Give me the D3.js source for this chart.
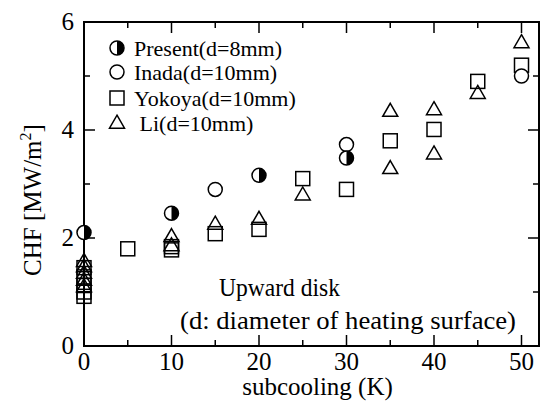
<!DOCTYPE html>
<html>
<head>
<meta charset="utf-8">
<script src="https://cdn.jsdelivr.net/npm/d3@7"></script>
<style>
  html, body { margin: 0; padding: 0; background: #fff; }
  svg text { font-family: "Liberation Serif", "Times New Roman", serif; fill: #000; }
</style>
</head>
<body>
<svg id="chart" width="543" height="405"></svg>
<script>
// CHF versus subcooling for an upward-facing heated disk
const presentX = [0, 10, 20, 30];
const presentY = [2.1, 2.46, 3.16, 3.48];

const inadaX = [15, 30, 50];
const inadaY = [2.9, 3.73, 5.0];

const yokoyaX = [0, 0, 0, 0, 0, 5, 10, 10, 15, 20, 25, 30, 35, 40, 45, 50];
const yokoyaY = [1.45, 1.28, 1.12, 1.0, 0.92, 1.8, 1.84, 1.78, 2.08, 2.16, 3.1, 2.9, 3.8, 4.01, 4.9, 5.2];

const liX = [0, 0, 0, 0, 0, 10, 10, 15, 20, 25, 35, 35, 40, 40, 45, 50];
const liY = [1.57, 1.47, 1.35, 1.22, 1.1, 2.03, 1.86, 2.26, 2.35, 2.8, 4.35, 3.29, 4.38, 3.56, 4.68, 5.62];

const legendLabels = ["Present(d=8mm)", "Inada(d=10mm)", "Yokoya(d=10mm)", " Li(d=10mm)"];
const xTicks = [0, 10, 20, 30, 40, 50];
const yTicks = [0, 2, 4, 6];

const svg = d3.select("#chart");
const plotL = 84, plotR = 539, plotT = 22, plotB = 346;

const x = d3.scaleLinear().domain([0, 52]).range([plotL, plotR]);
const y = d3.scaleLinear().domain([0, 6]).range([plotB, plotT]);

const xMinor = d3.range(5, 52, 10);
const yMinor = [1, 3, 5];

// frame
svg.append("rect")
  .attr("x", plotL).attr("y", plotT)
  .attr("width", plotR - plotL).attr("height", plotB - plotT)
  .attr("fill", "none").attr("stroke", "#000").attr("stroke-width", 2);

// inward ticks on all four sides
function xTickMarks(vals, len) {
  vals.forEach(v => {
    svg.append("line").attr("x1", x(v)).attr("x2", x(v))
      .attr("y1", plotB).attr("y2", plotB - len)
      .attr("stroke", "#000").attr("stroke-width", 1.5);
    svg.append("line").attr("x1", x(v)).attr("x2", x(v))
      .attr("y1", plotT).attr("y2", plotT + len)
      .attr("stroke", "#000").attr("stroke-width", 1.5);
  });
}
function yTickMarks(vals, len) {
  vals.forEach(v => {
    svg.append("line").attr("x1", plotL).attr("x2", plotL + len)
      .attr("y1", y(v)).attr("y2", y(v))
      .attr("stroke", "#000").attr("stroke-width", 1.5);
    svg.append("line").attr("x1", plotR).attr("x2", plotR - len)
      .attr("y1", y(v)).attr("y2", y(v))
      .attr("stroke", "#000").attr("stroke-width", 1.5);
  });
}
xTickMarks(xTicks, 11);
xTickMarks(xMinor, 6);
yTickMarks(yTicks, 11);
yTickMarks(yMinor, 6);

// tick labels
svg.selectAll(".xt").data(xTicks).enter().append("text")
  .attr("x", d => x(d)).attr("y", 370)
  .attr("text-anchor", "middle").attr("font-size", 25)
  .text(d => d);
svg.selectAll(".yt").data(yTicks).enter().append("text")
  .attr("x", 74).attr("y", d => y(d) + 8)
  .attr("text-anchor", "end").attr("font-size", 25)
  .text(d => d);

// axis titles
svg.append("text")
  .attr("x", (plotL + plotR) / 2 + 6).attr("y", 395)
  .attr("text-anchor", "middle").attr("font-size", 25)
  .text("subcooling (K)");

const yl = svg.append("text")
  .attr("transform", "translate(41,200) rotate(-90)")
  .attr("text-anchor", "middle").attr("font-size", 25);
yl.append("tspan").text("CHF [MW/m");
yl.append("tspan").attr("font-size", 16).attr("dy", -10).text("2");
yl.append("tspan").attr("dy", 10).text("]");

// annotation
svg.append("text").attr("x", 219).attr("y", 296).attr("font-size", 25)
  .attr("textLength", 121).attr("lengthAdjust", "spacingAndGlyphs").text("Upward disk");
svg.append("text").attr("x", 180).attr("y", 329).attr("font-size", 25)
  .attr("textLength", 336).attr("lengthAdjust", "spacingAndGlyphs")
  .text("(d: diameter of heating surface)");

// marker drawing
const R = 7;
function openCircle(g, cx, cy) {
  g.append("circle").attr("cx", cx).attr("cy", cy).attr("r", R)
    .attr("fill", "#fff").attr("stroke", "#000").attr("stroke-width", 1.5);
}
function halfCircle(g, cx, cy) {
  openCircle(g, cx, cy);
  g.append("path")
    .attr("d", `M${cx},${cy - R} A${R},${R} 0 0 1 ${cx},${cy + R} Z`)
    .attr("fill", "#000");
}
function square(g, cx, cy) {
  g.append("rect").attr("x", cx - R).attr("y", cy - R)
    .attr("width", 2 * R).attr("height", 2 * R)
    .attr("fill", "none").attr("stroke", "#000").attr("stroke-width", 1.5);
}
function triangle(g, cx, cy) {
  const h = 13, w = 15;
  g.append("path")
    .attr("d", `M${cx},${cy - h * 0.6} L${cx + w / 2},${cy + h * 0.4} L${cx - w / 2},${cy + h * 0.4} Z`)
    .attr("fill", "none").attr("stroke", "#000").attr("stroke-width", 1.5)
    .attr("stroke-linejoin", "miter");
}

const pts = svg.append("g");
yokoyaX.forEach((v, i) => square(pts, x(v), y(yokoyaY[i])));
liX.forEach((v, i) => triangle(pts, x(v), y(liY[i])));
inadaX.forEach((v, i) => openCircle(pts, x(v), y(inadaY[i])));
presentX.forEach((v, i) => halfCircle(pts, x(v), y(presentY[i])));

// legend
const legendMarks = [halfCircle, openCircle, square, triangle];
const legendRows = [48, 72, 98, 123];
const lg = svg.append("g");
legendLabels.forEach((t, i) => {
  legendMarks[i](lg, 117, legendRows[i]);
  lg.append("text").attr("x", 134).attr("y", legendRows[i] + 8)
    .attr("font-size", 22).style("white-space", "pre").text(t);
});
</script>
</body>
</html>
